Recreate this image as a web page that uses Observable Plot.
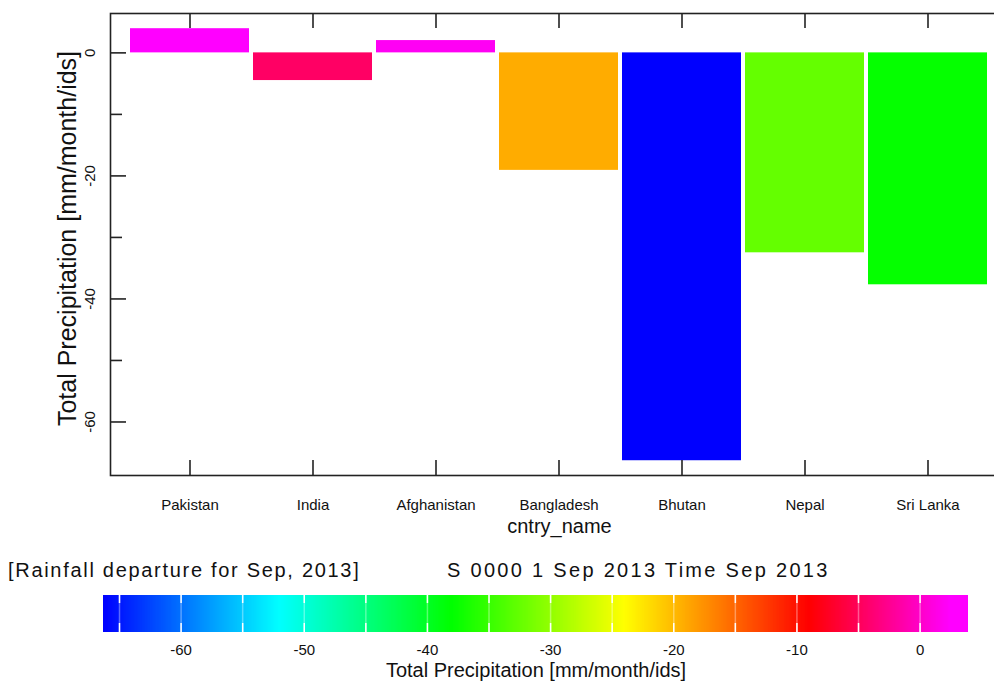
<!DOCTYPE html>
<html>
<head>
<meta charset="utf-8">
<script src="https://cdn.jsdelivr.net/npm/d3@7"></script>
<script src="https://cdn.jsdelivr.net/npm/@observablehq/plot@0.6"></script>
<style>
  html, body { margin: 0; padding: 0; background: white; overflow: hidden; }
  #wrap { position: relative; width: 994px; height: 688px; overflow: hidden; font-family: "Liberation Sans", Arial, sans-serif; color: #111; }
  #wrap svg { max-width: none !important; position: absolute; left: 0; }
  .note { position: absolute; font-size: 20px; line-height: 24px; white-space: nowrap; }
  g[aria-label="cat-labels"] text { letter-spacing: 2px; }
  g[aria-label="x-title"] text { letter-spacing: 2px; }
  g[aria-label="y-ticklabels"] text { letter-spacing: 1.5px; }
  g[aria-label="cb-ticklabels"] text { letter-spacing: 2.3px; }
  g[aria-label="cb-title"] text { letter-spacing: 1.7px; }
  g[aria-label="cb-ramp"] rect { shape-rendering: crispEdges; }
</style>
</head>
<body>
<div id="wrap"></div>
<script>
// ---- data ----
const countries = ["Pakistan", "India", "Afghanistan", "Bangladesh", "Bhutan", "Nepal", "Sri Lanka"];
const precip = [3.93, -4.5, 2.0, -19.1, -66.3, -32.5, -37.7];
const yMajorTicks = [0, -20, -40, -60];
const yMinorTicks = [-10, -30, -50];
const cbTicks = [-65, -60, -55, -50, -45, -40, -35, -30, -25, -20, -15, -10, -5, 0];
const cbLabels = [-60, -50, -40, -30, -20, -10, 0];
const paletteStops = [-66.3, -52, -38, -24, -9, 2.5, 3.93];
const paletteColors = ["#0000ff", "#00ffff", "#00ff00", "#ffff00", "#ff0000", "#ff00ff", "#ff00ff"];
const yLabel = "Total Precipitation [mm/month/ids]";
const xLabel = "cntry_name";
const leftNote = "[Rainfall departure for Sep, 2013]";
const rightNote = "S 0000 1 Sep 2013 Time Sep 2013";

const rows = countries.map((c, i) => ({country: c, value: precip[i]}));
const colorOpts = {type: "linear", domain: paletteStops, range: paletteColors, interpolate: "rgb"};
const font = "Liberation Sans, Arial, sans-serif";
const ink = "#222";

const W = 1010, H = 545, mL = 110, mR = 2, mT = 13, mB = 70;
const frameW = W - mL - mR, frameH = H - mT - mB;

const main = Plot.plot({
  width: W, height: H,
  marginLeft: mL, marginRight: mR, marginTop: mT, marginBottom: mB,
  style: {fontFamily: font, background: "white", color: "#111", maxWidth: "none"},
  x: {type: "band", domain: countries, paddingInner: 0.029, paddingOuter: 0.146, axis: null},
  y: {domain: [-68.7, 6.4], axis: null},
  color: colorOpts,
  marks: [
    Plot.barY(rows, {x: "country", y: "value", fill: "value"}),
    Plot.frame({stroke: ink, strokeWidth: 1.6}),
    Plot.ruleX(countries, {x: d => d, stroke: ink, strokeWidth: 1.6, insetBottom: frameH - 15}),
    Plot.ruleX(countries, {x: d => d, stroke: ink, strokeWidth: 1.6, insetTop: frameH - 15}),
    Plot.ruleY(yMajorTicks, {y: d => d, stroke: ink, strokeWidth: 1.6, insetRight: frameW - 16}),
    Plot.ruleY(yMinorTicks, {y: d => d, stroke: ink, strokeWidth: 1.6, insetRight: frameW - 12}),
    Plot.text(yMajorTicks, {y: d => d, text: d => String(d), frameAnchor: "left", dx: -20, rotate: -90, textAnchor: "middle", lineAnchor: "middle", fontSize: 15, fill: "#111", ariaLabel: "y-ticklabels"}),
    Plot.text([yLabel], {text: d => d, frameAnchor: "left", dx: -43, dy: -6, rotate: -90, textAnchor: "middle", lineAnchor: "middle", fontSize: 25, fill: "#111", ariaLabel: "y-title"}),
    Plot.text(countries, {x: d => d, text: d => d, frameAnchor: "bottom", dy: 30, lineAnchor: "middle", fontSize: 15, fill: "#111", ariaLabel: "cat-labels"}),
    Plot.text([xLabel], {text: d => d, frameAnchor: "bottom", dy: 51, lineAnchor: "middle", fontSize: 20, fill: "#111", ariaLabel: "x-title"})
  ]
});
main.style.top = "0px";

// ---- colour bar ----
const cbDomain = d3.extent(precip);
const step = 0.1;
const samples = d3.range(cbDomain[0], cbDomain[1], step);
const cb = Plot.plot({
  width: 994, height: 108,
  marginLeft: 103, marginRight: 26, marginTop: 15, marginBottom: 56,
  style: {fontFamily: font, background: "transparent", color: "#111", maxWidth: "none"},
  x: {domain: cbDomain, axis: null},
  color: colorOpts,
  marks: [
    Plot.rect(samples, {x1: d => d, x2: d => Math.min(d + step * 3, cbDomain[1]), fill: d => d + step / 2, ariaLabel: "cb-ramp"}),
    Plot.ruleX(cbTicks, {x: d => d, stroke: "white", strokeOpacity: 0.35, strokeWidth: 1.5}),
    Plot.ruleX(cbTicks, {x: d => d, stroke: "white", strokeWidth: 1.5, insetBottom: 29}),
    Plot.ruleX(cbTicks, {x: d => d, stroke: "white", strokeWidth: 1.5, insetTop: 28}),
    Plot.text(cbLabels, {x: d => d, text: d => String(d), frameAnchor: "bottom", dy: 18, lineAnchor: "middle", fontSize: 15, fill: "#111", ariaLabel: "cb-ticklabels"}),
    Plot.text([yLabel], {text: d => d, frameAnchor: "bottom", dy: 38, lineAnchor: "middle", fontSize: 20, fill: "#111", ariaLabel: "cb-title"})
  ]
});
cb.style.top = "580px";

const wrap = document.getElementById("wrap");
wrap.appendChild(main);
wrap.appendChild(cb);

const n1 = document.createElement("div");
n1.className = "note";
n1.style.left = "8px"; n1.style.top = "558px"; n1.style.letterSpacing = "1.7px";
n1.textContent = leftNote;
wrap.appendChild(n1);

const n2 = document.createElement("div");
n2.className = "note";
n2.style.left = "447px"; n2.style.top = "558px"; n2.style.letterSpacing = "2.3px";
n2.textContent = rightNote;
wrap.appendChild(n2);
</script>
</body>
</html>
